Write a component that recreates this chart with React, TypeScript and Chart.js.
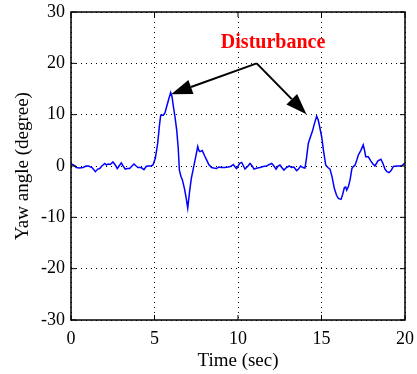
import React, { useEffect, useRef } from "react";
import { Chart, registerables } from "chart.js";

Chart.register(...registerables);

const timeSec: number[] = [
  0.0, 0.15, 0.32, 0.5, 0.72, 0.9, 1.05, 1.26, 1.46, 1.6, 1.72, 1.85, 2.02, 2.12, 2.22, 2.35, 2.51, 2.65, 2.77, 2.88,
  3.01, 3.12, 3.25, 3.38, 3.51, 3.65, 3.77, 3.9, 4.01, 4.2, 4.37, 4.5, 4.61, 4.8, 4.91, 5.05, 5.19, 5.3, 5.37, 5.53,
  5.63, 5.73, 5.85, 5.97, 6.05, 6.13, 6.23, 6.33, 6.42, 6.49, 6.58, 6.67, 6.8, 6.9, 6.99, 7.1, 7.2, 7.37, 7.5, 7.59,
  7.66, 7.72, 7.86, 8.0, 8.12, 8.25, 8.42, 8.55, 8.7, 8.85, 9.0, 9.22, 9.4, 9.55, 9.72, 9.85, 9.92, 10.1, 10.22, 10.42,
  10.6, 10.72, 10.85, 10.96, 11.15, 11.32, 11.5, 11.72, 11.88, 12.02, 12.15, 12.28, 12.4, 12.51, 12.62, 12.75, 12.9, 13.07, 13.2, 13.35,
  13.51, 13.62, 13.75, 13.88, 14.01, 14.1, 14.21, 14.33, 14.45, 14.58, 14.71, 14.8, 14.9, 15.01, 15.12, 15.25, 15.38, 15.51, 15.64, 15.77,
  15.9, 16.01, 16.17, 16.27, 16.37, 16.45, 16.51, 16.61, 16.71, 16.82, 16.9, 17.0, 17.1, 17.2, 17.35, 17.5, 17.58, 17.65, 17.8, 17.95,
  18.08, 18.2, 18.38, 18.56, 18.68, 18.8, 18.92, 19.04, 19.17, 19.3, 19.5, 19.8, 19.96, 20.0,
];

const yawDeg: number[] = [
  0.4, 0.2, -0.3, -0.4, -0.3, 0.0, 0.0, -0.3, -1.1, -0.6, -0.5, 0.0, 0.5, 0.2, 0.4, 0.3, 0.8, 0.2, -0.5, 0.0,
  0.6, 0.0, -0.6, -0.5, -0.5, 0.0, 0.4, 0.0, -0.3, -0.3, -0.7, -0.1, 0.0, 0.0, 0.2, 1.5, 4.4, 8.0, 9.9, 9.9,
  10.4, 11.6, 13.0, 14.3, 13.5, 11.6, 9.5, 7.0, 3.5, -0.8, -2.0, -2.7, -4.5, -6.3, -8.2, -5.0, -2.5, 0.2, 2.3, 3.8,
  3.0, 2.8, 3.0, 2.0, 1.2, 0.3, -0.3, -0.4, -0.5, -0.2, -0.3, -0.3, -0.2, -0.1, 0.3, -0.3, -0.5, 0.5, 0.7, -0.6,
  0.0, 0.5, 0.0, -0.6, -0.4, -0.3, -0.1, 0.0, 0.3, 0.5, 0.0, -0.6, 0.0, 0.2, -0.3, -0.8, -0.3, 0.0, -0.3, -0.2,
  -0.9, -0.6, 0.0, -0.3, -0.4, 1.5, 4.4, 5.6, 6.7, 8.3, 9.7, 9.0, 7.5, 5.7, 3.0, 0.2, -0.3, -0.6, -2.2, -4.4,
  -5.7, -6.3, -6.5, -5.5, -4.2, -4.1, -4.7, -4.0, -2.7, -0.5, -0.1, 0.1, 1.0, 2.1, 3.0, 4.1, 3.0, 1.8, 1.8, 1.0,
  0.4, 0.0, 1.0, 1.3, 0.5, -0.6, -1.1, -1.3, -0.9, -0.1, 0.0, 0.0, 0.5, 0.5,
];

const xTitle = "Time (sec)";
const yTitle = "Yaw angle (degree)";
const annotationText = "Disturbance";
// annotation anchor points in data units [time, yaw]
const arrowVertex: [number, number] = [11.12, 20.0];
const arrowTips: [number, number][] = [
  [6.0, 14.0],
  [14.1, 10.1],
];
const labelPos: [number, number] = [12.1, 23.9];

const FONT = "'Liberation Serif', 'Times New Roman', serif";

const decorPlugin = {
  id: "decor",
  afterDatasetsDraw(chart: any) {
    const { ctx, chartArea, scales } = chart;
    const xs = scales.x;
    const ys = scales.y;
    ctx.save();
    // box
    ctx.strokeStyle = "#000";
    ctx.lineWidth = 1.5;
    ctx.strokeRect(chartArea.left, chartArea.top, chartArea.right - chartArea.left, chartArea.bottom - chartArea.top);
    // inward ticks
    ctx.lineWidth = 1;
    const tl = 5;
    xs.ticks.forEach((t: any) => {
      const px = xs.getPixelForValue(t.value);
      ctx.beginPath();
      ctx.moveTo(px, chartArea.bottom);
      ctx.lineTo(px, chartArea.bottom - tl);
      ctx.moveTo(px, chartArea.top);
      ctx.lineTo(px, chartArea.top + tl);
      ctx.stroke();
    });
    ys.ticks.forEach((t: any) => {
      const py = ys.getPixelForValue(t.value);
      ctx.beginPath();
      ctx.moveTo(chartArea.left, py);
      ctx.lineTo(chartArea.left + tl, py);
      ctx.moveTo(chartArea.right, py);
      ctx.lineTo(chartArea.right - tl, py);
      ctx.stroke();
    });
    // arrows
    const vx = xs.getPixelForValue(arrowVertex[0]);
    const vy = ys.getPixelForValue(arrowVertex[1]);
    ctx.strokeStyle = "#000";
    ctx.fillStyle = "#000";
    ctx.lineWidth = 2;
    arrowTips.forEach(([tx, ty]) => {
      const px = xs.getPixelForValue(tx);
      const py = ys.getPixelForValue(ty);
      const dx = px - vx;
      const dy = py - vy;
      const len = Math.hypot(dx, dy);
      const ux = dx / len;
      const uy = dy / len;
      const headLen = 21;
      const headHalf = 7.5;
      const bx = px - ux * headLen;
      const by = py - uy * headLen;
      ctx.beginPath();
      ctx.moveTo(vx, vy);
      ctx.lineTo(bx, by);
      ctx.stroke();
      ctx.beginPath();
      ctx.moveTo(px, py);
      ctx.lineTo(bx - uy * headHalf, by + ux * headHalf);
      ctx.lineTo(bx + uy * headHalf, by - ux * headHalf);
      ctx.closePath();
      ctx.fill();
    });
    // text
    ctx.fillStyle = "#ff0000";
    ctx.font = `bold 20px ${FONT}`;
    ctx.textAlign = "center";
    ctx.textBaseline = "middle";
    ctx.fillText(annotationText, xs.getPixelForValue(labelPos[0]), ys.getPixelForValue(labelPos[1]));
    ctx.restore();
  },
};

export default function App() {
  const ref = useRef<HTMLCanvasElement | null>(null);
  useEffect(() => {
    document.body.style.margin = "0";
    const canvas = ref.current;
    if (!canvas) return;
    const points = timeSec.map((t, i) => ({ x: t, y: yawDeg[i] }));
    const zeroPad = (s: any) => {
      s.paddingTop = 0;
      s.paddingBottom = 0;
      s.paddingLeft = 0;
      s.paddingRight = 0;
    };
    const chart = new Chart(canvas, {
      type: "line",
      data: {
        datasets: [
          {
            data: points,
            borderColor: "#0000ff",
            borderWidth: 1.5,
            pointRadius: 0,
            tension: 0,
            fill: false,
          },
        ],
      },
      options: {
        responsive: false,
        animation: false,
        maintainAspectRatio: false,
        layout: { padding: { top: 12, right: 12, left: 0, bottom: 0 } },
        plugins: { legend: { display: false }, tooltip: { enabled: false } },
        scales: {
          x: {
            type: "linear",
            min: 0,
            max: 20,
            ticks: { stepSize: 5, color: "#000", padding: 8, font: { family: FONT, size: 18 }, maxRotation: 0 },
            grid: { color: "#000", lineWidth: 1, drawTicks: false },
            border: { display: false, dash: [1, 4] },
            title: { display: true, text: xTitle, color: "#000", font: { family: FONT, size: 19 }, padding: { top: 0, bottom: 2 } },
            afterFit: (s: any) => {
              s.height = 54;
              zeroPad(s);
            },
          },
          y: {
            type: "linear",
            min: -30,
            max: 30,
            ticks: { stepSize: 10, color: "#000", padding: 6, font: { family: FONT, size: 18 } },
            grid: { color: "#000", lineWidth: 1, drawTicks: false },
            border: { display: false, dash: [1, 4] },
            title: { display: true, text: yTitle, color: "#000", font: { family: FONT, size: 19 }, padding: { top: 12, bottom: 0 } },
            afterFit: (s: any) => {
              s.width = 71;
              zeroPad(s);
            },
          },
        },
      },
      plugins: [decorPlugin],
    });
    return () => chart.destroy();
  }, []);
  return (
    <div style={{ width: 417, height: 374 }}>
      <canvas ref={ref} width={417} height={374} style={{ display: "block" }} />
    </div>
  );
}
